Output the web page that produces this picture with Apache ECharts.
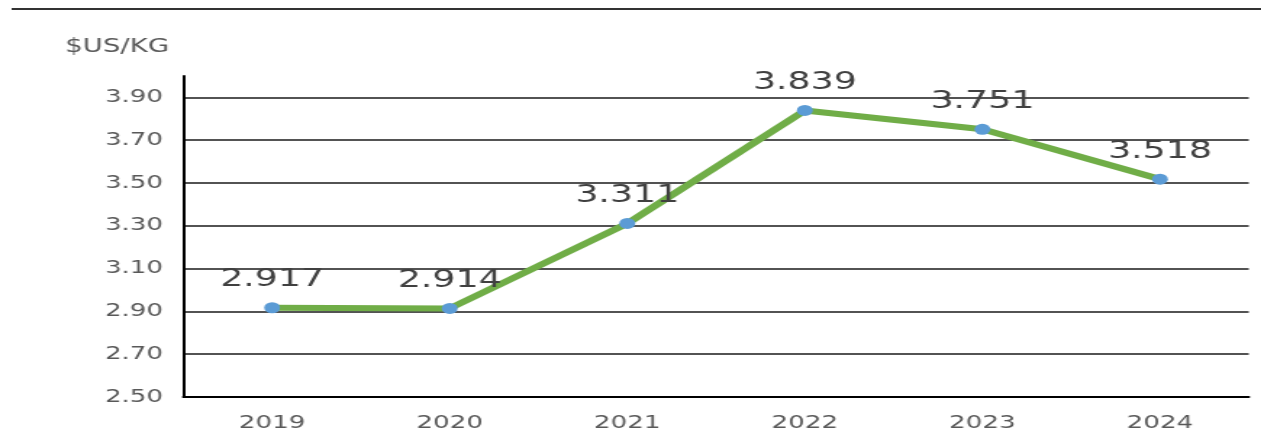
<!DOCTYPE html>
<html>
<head>
<meta charset="utf-8">
<script src="https://cdn.jsdelivr.net/npm/echarts@6/dist/echarts.min.js"></script>
<style>
html,body{margin:0;padding:0;background:#fff;overflow:hidden;}
#wrap{width:1261px;height:447px;overflow:hidden;}
#c{width:870px;height:447px;transform:scaleX(1.4495);transform-origin:0 0;}
</style>
</head>
<body>
<div id="wrap"><div id="c"></div></div>
<script>
const years = ['2019', '2020', '2021', '2022', '2023', '2024'];
const prices = [2.917, 2.914, 3.311, 3.839, 3.751, 3.518];
const priceLabels = ['2.917', '2.914', '3.311', '3.839', '3.751', '3.518'];
const unitLabel = '$US/KG';

const chart = echarts.init(document.getElementById('c'), null, {renderer: 'canvas'});
chart.setOption({
  animation: false,
  backgroundColor: '#ffffff',
  title: {
    text: unitLabel,
    left: 40,
    top: 33,
    textStyle: {fontFamily: 'DejaVu Sans', fontSize: 19, fontWeight: 'normal', color: '#595959'}
  },
  graphic: [{
    type: 'line',
    shape: {x1: 8, y1: 9, x2: 870, y2: 9},
    style: {stroke: '#333333', lineWidth: 2}
  }],
  grid: {left: 126.5, right: 8.5, top: 76, bottom: 50},
  xAxis: {
    type: 'category',
    data: years,
    boundaryGap: true,
    axisLine: {show: true, lineStyle: {color: '#000', width: 2}},
    axisTick: {show: false},
    axisLabel: {fontFamily: 'DejaVu Sans', fontSize: 18, color: '#595959', margin: 17},
    splitLine: {show: false}
  },
  yAxis: {
    type: 'value',
    min: 2.5,
    max: 4.0,
    interval: 0.2,
    axisLine: {show: true, lineStyle: {color: '#000', width: 2}},
    axisTick: {show: false},
    axisLabel: {
      fontFamily: 'DejaVu Sans', fontSize: 18, color: '#595959', margin: 14,
      showMaxLabel: false,
      formatter: v => v.toFixed(2)
    },
    splitLine: {show: true, showMaxLine: false, lineStyle: {color: '#1a1a1a', width: 1.5}}
  },
  series: [{
    type: 'line',
    data: prices,
    symbol: 'circle',
    symbolSize: 11,
    lineStyle: {color: '#70AD47', width: 6},
    itemStyle: {color: '#5B9BD5'},
    label: {
      show: true,
      position: 'top',
      distance: 10,
      fontFamily: 'DejaVu Sans',
      fontSize: 25,
      color: '#404040',
      formatter: p => priceLabels[p.dataIndex]
    },
    z: 3
  }]
});
</script>
</body>
</html>
